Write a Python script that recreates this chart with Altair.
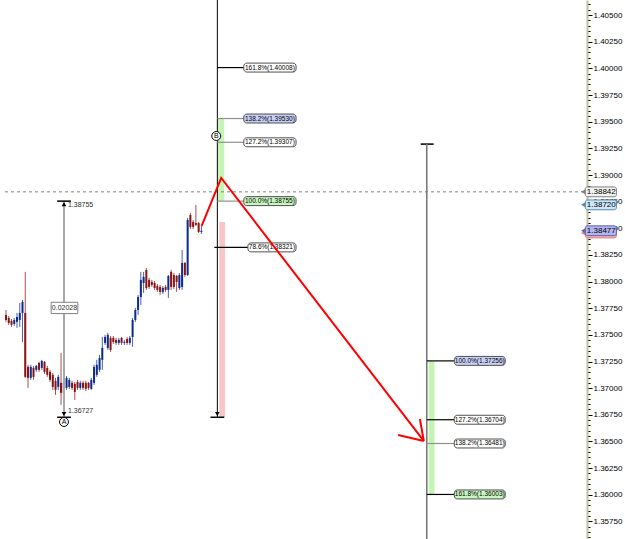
import altair as alt
import pandas as pd

# ---------------- data ----------------
opens = [1.37687,1.37659,1.37631,1.37603,1.37622,1.37640,1.37706,1.37706,1.37200,1.37097,
         1.37190,1.37172,1.37237,1.37190,1.37247,1.37190,1.37153,1.37125,1.37069,1.37012,
         1.37050,1.36956,1.37003,1.37012,1.37050,1.37041,1.37059,1.37003,1.37050,1.37050,
         1.37050,1.36994,1.37050,1.37125,1.37172,1.37266,1.37425,1.37378,1.37472,1.37472,
         1.37453,1.37425,1.37472,1.37425,1.37462,1.37425,1.37481,1.37640,1.37734,1.37856,
         1.37987,1.38109,1.38016,1.37997,1.37987,1.37959,1.37950,1.37903,1.37950,1.37922,
         1.38091,1.38062,1.38053,1.37940,1.37950,1.38175,1.38062,1.38625,1.38560,1.38550,
         1.38550,1.38466]
highs = [1.37734,1.37678,1.37650,1.37659,1.37706,1.37800,1.37828,1.38091,1.37219,1.37219,
         1.37209,1.37219,1.37247,1.37266,1.37256,1.37209,1.37172,1.37143,1.37097,1.37125,
         1.37331,1.37078,1.37115,1.37097,1.37069,1.37059,1.37078,1.37069,1.37069,1.37069,
         1.37059,1.37097,1.37219,1.37266,1.37312,1.37481,1.37500,1.37519,1.37490,1.37490,
         1.37472,1.37472,1.37481,1.37453,1.37481,1.37490,1.37659,1.37753,1.37875,1.38091,
         1.38091,1.38128,1.38034,1.38016,1.38006,1.37978,1.37969,1.37959,1.37969,1.38062,
         1.38109,1.38081,1.38062,1.38081,1.38297,1.38184,1.38597,1.38644,1.38578,1.38719,
         1.38560,1.38522]
lows = [1.37622,1.37594,1.37575,1.37584,1.37566,1.37575,1.37434,1.37097,1.37003,1.37078,
        1.37078,1.37153,1.37153,1.37172,1.37134,1.37106,1.37059,1.36984,1.36937,1.36984,
        1.36843,1.36937,1.36984,1.36994,1.36984,1.36890,1.36984,1.36984,1.36984,1.36974,
        1.36984,1.36984,1.37031,1.37106,1.37153,1.37172,1.37406,1.37359,1.37340,1.37415,
        1.37406,1.37406,1.37406,1.37406,1.37406,1.37406,1.37387,1.37622,1.37687,1.37781,
        1.37894,1.37922,1.37931,1.37950,1.37922,1.37903,1.37875,1.37884,1.37903,1.37847,
        1.37922,1.37931,1.37903,1.37922,1.37922,1.38044,1.38053,1.38494,1.38494,1.38522,
        1.38456,1.38447]
closes = [1.37640,1.37612,1.37594,1.37640,1.37668,1.37706,1.37809,1.37106,1.37097,1.37200,
          1.37106,1.37209,1.37172,1.37256,1.37153,1.37125,1.37078,1.37012,1.36984,1.37106,
          1.36956,1.37050,1.37097,1.37078,1.37003,1.36965,1.37003,1.37050,1.37003,1.36994,
          1.37003,1.37078,1.37200,1.37219,1.37284,1.37378,1.37481,1.37500,1.37359,1.37434,
          1.37425,1.37453,1.37425,1.37434,1.37425,1.37472,1.37640,1.37734,1.37856,1.38016,
          1.38044,1.37940,1.37950,1.37969,1.37940,1.37922,1.37903,1.37940,1.37922,1.38053,
          1.37950,1.37950,1.37997,1.38062,1.38175,1.38062,1.38578,1.38513,1.38513,1.38532,
          1.38466,1.38477]

# measurement A
meas_top = 1.38755
meas_bottom = 1.36727
meas_diff = "0.02028"

# Fibonacci set 1 (vertical line B)
fib1_pct = ["161.8%", "138.2%", "127.2%", "100.0%", "78.6%"]
fib1_price = [1.40008, 1.39530, 1.39307, 1.38755, 1.38321]
# Fibonacci set 2
fib2_pct = ["100.0%", "127.2%", "138.2%", "161.8%"]
fib2_price = [1.37256, 1.36704, 1.36481, 1.36003]

fib2_top = 1.39290
pink_top = 1.38560
dash_level = 1.38842

# red zig-zag (bar index, price)
zig_x = [71.1, 78.2, 151.8]
zig_p = [1.38522, 1.38972, 1.36505]
barb_x = [142.5, 150.4]
barb_p = [1.36561, 1.36711]

# price tags on the right axis
tag_price = [1.38842, 1.38720, 1.38477]

# axis ticks
minor_ticks = [round(1.3560 + k * 0.0005, 4) for k in range(101)]

# ---------------- styles / positions ----------------
XS = alt.Scale(domain=[-0.36, 209.3], nice=False, zero=False)
YS = alt.Scale(domain=[1.35585, 1.40642], nice=False, zero=False)
FONT = "Liberation Sans"
MAJOR = "abs(datum.value*400 - round(datum.value*400)) < 0.01"

YAX = alt.Axis(
    orient="right", values=minor_ticks, title=None, grid=False,
    labelExpr=f"{MAJOR} ? format(datum.value, '.5f') : ''",
    tickSize={"condition": {"test": MAJOR, "value": 5}, "value": 3},
    tickColor="#000000", tickWidth=1,
    domainColor="#c0c0a0", domainWidth=2,
    labelFont=FONT, labelFontSize=8, labelColor="#000000",
    labelOverlap=False, labelPadding=1, labelBound=False, labelFlush=False,
)


def X(f):
    return alt.X(f"{f}:Q", scale=XS, axis=None)


def Y(f):
    return alt.Y(f"{f}:Q", scale=YS, axis=YAX, title=None)


def X2(f):
    return alt.X2(f"{f}:Q")


def Y2(f):
    return alt.Y2(f"{f}:Q")


candles = pd.DataFrame({"i": list(range(len(opens))), "open": opens, "high": highs,
                        "low": lows, "close": closes})
candles["col"] = ["#0e2c8e" if c >= o else "#8a1414" for o, c in zip(opens, closes)]

wicks = alt.Chart(candles).mark_rule(strokeWidth=1, opacity=0.75).encode(
    x=X("i"), y=Y("low"), y2=Y2("high"), color=alt.Color("col:N", scale=None))
bodies = alt.Chart(candles).mark_bar(size=2).encode(
    x=X("i"), y=Y("open"), y2=Y2("close"), color=alt.Color("col:N", scale=None))

# shaded bars
bars = pd.DataFrame({
    "x": [77.1, 77.5, 153.6], "x2": [79.3, 79.6, 155.7],
    "y": [meas_top, meas_bottom, fib2_price[3]], "y2": [fib1_price[1], pink_top, fib2_price[0]],
    "c": ["#c4f5b4", "#f8c6c6", "#c4f5b4"]})
bar_layer = alt.Chart(bars).mark_rect().encode(
    x=X("x"), x2=X2("x2"), y=Y("y"), y2=Y2("y2"), fill=alt.Fill("c:N", scale=None))

dash = alt.Chart(pd.DataFrame({"x": [-0.36], "x2": [209.3], "y": [dash_level]})).mark_rule(
    color="#808080", strokeDash=[3, 3], strokeWidth=1).encode(x=X("x"), x2=X2("x2"), y=Y("y"))

# measurement tool A
meas_line = alt.Chart(pd.DataFrame({"x": [21.07], "y": [meas_bottom], "y2": [meas_top]})).mark_rule(
    color="#a8a8a8", strokeWidth=2).encode(x=X("x"), y=Y("y"), y2=Y2("y2"))
caps = pd.DataFrame({"x": [18.6, 18.6, 74.3, 150.7], "x2": [23.6, 23.6, 79.3, 155.4],
                     "y": [meas_top, meas_bottom, meas_bottom, fib2_top]})
cap_layer = alt.Chart(caps).mark_rule(color="#000000", strokeWidth=1.5).encode(
    x=X("x"), x2=X2("x2"), y=Y("y"))
arrows = pd.DataFrame({"x": [21.07, 21.07, 76.8], "y": [meas_top - 0.00030, meas_bottom + 0.00030, meas_bottom + 0.00030],
                       "s": ["triangle-up", "triangle-down", "triangle-down"]})
arrow_layer = alt.Chart(arrows).mark_point(filled=True, color="#000000", size=22, opacity=1).encode(
    x=X("x"), y=Y("y"), shape=alt.Shape("s:N", scale=None))
meas_text = alt.Chart(pd.DataFrame({"x": [22.5, 22.5], "y": [meas_top - 0.00035, meas_bottom + 0.00055],
                                    "t": [f"{meas_top:.5f}", f"{meas_bottom:.5f}"]})).mark_text(
    align="left", baseline="middle", font=FONT, fontSize=7, color="#303030").encode(
    x=X("x"), y=Y("y"), text="t:N")
diff_box = alt.Chart(pd.DataFrame({"x": [16.4], "x2": [26.1], "y": [1.37700], "y2": [1.37806]})).mark_rect(
    fill="white", stroke="#808080", strokeWidth=1).encode(x=X("x"), x2=X2("x2"), y=Y("y"), y2=Y2("y2"))
diff_text = alt.Chart(pd.DataFrame({"x": [21.25], "y": [1.37753], "t": [meas_diff]})).mark_text(
    align="center", baseline="middle", font=FONT, fontSize=7, color="#303030").encode(
    x=X("x"), y=Y("y"), text="t:N")

# fib vertical lines
fib1_line = alt.Chart(pd.DataFrame({"x": [76.8], "y": [meas_bottom], "y2": [1.40642]})).mark_rule(
    color="#000000", strokeWidth=1).encode(x=X("x"), y=Y("y"), y2=Y2("y2"))
fib2_line = alt.Chart(pd.DataFrame({"x": [152.9], "y": [1.35585], "y2": [fib2_top]})).mark_rule(
    color="#7a7a7a", strokeWidth=1.6).encode(x=X("x"), y=Y("y"), y2=Y2("y2"))

fib_rows = []
fill1 = ["white", "#c8d0f8", "white", "#c8f5c0", "white"]
tick1 = ["#000000", "#909090", "#909090", "#909090", "#000000"]
left1 = [86.4, 86.4, 86.4, 86.4, 87.9]
for p, v, f, tc, lx in zip(fib1_pct, fib1_price, fill1, tick1, left1):
    fib_rows.append({"tx": 75.7 if p == "78.6%" else 76.8, "bx": lx, "bx2": 105.4, "y": v,
                     "t": f"{p}({v:.5f})", "fill": f, "tc": tc})
fill2 = ["#c8d0f8", "white", "white", "#c8f5c0"]
tick2 = ["#000000", "#000000", "#909090", "#000000"]
for p, v, f, tc in zip(fib2_pct, fib2_price, fill2, tick2):
    fib_rows.append({"tx": 152.9, "bx": 162.9, "bx2": 181.4, "y": v,
                     "t": f"{p}({v:.5f})", "fill": f, "tc": tc})
fib = pd.DataFrame(fib_rows)
fib["y_lo"] = fib["y"] - 0.00042
fib["y_hi"] = fib["y"] + 0.00042
fib["cx"] = (fib["bx"] + fib["bx2"]) / 2

fib_ticks = alt.Chart(fib).mark_rule(strokeWidth=1.2).encode(
    x=X("tx"), x2=X2("bx"), y=Y("y"), color=alt.Color("tc:N", scale=None))
fib_boxes = alt.Chart(fib).mark_rect(stroke="#505050", strokeWidth=1, cornerRadius=3).encode(
    x=X("bx"), x2=X2("bx2"), y=Y("y_lo"), y2=Y2("y_hi"), fill=alt.Fill("fill:N", scale=None))
fib_text = alt.Chart(fib).mark_text(align="center", baseline="middle", font=FONT, fontSize=6.5,
                                     color="#000000").encode(x=X("cx"), y=Y("y"), text="t:N")

# circles A / B
circ = pd.DataFrame({"x": [21.07, 76.4], "y": [1.36683, 1.39366], "t": ["A", "B"]})
circ_pts = alt.Chart(circ).mark_point(shape="circle", fill="white", stroke="#000000", strokeWidth=1,
                                      size=80, opacity=1, filled=False).encode(x=X("x"), y=Y("y"))
circ_text = alt.Chart(circ).mark_text(align="center", baseline="middle", font=FONT, fontSize=7,
                                      color="#000000").encode(x=X("x"), y=Y("y"), text="t:N")

# red zig-zag
zig = pd.DataFrame({"x": zig_x, "y": zig_p, "o": [0, 1, 2]})
zig_layer = alt.Chart(zig).mark_line(color="#ff0000", strokeWidth=2).encode(
    x=X("x"), y=Y("y"), order="o:Q")
barbs = pd.DataFrame({"x": barb_x, "y": barb_p, "x2": [zig_x[-1]] * 2, "y2": [zig_p[-1]] * 2})
barb_layer = alt.Chart(barbs).mark_rule(color="#ff0000", strokeWidth=2).encode(
    x=X("x"), x2=X2("x2"), y=Y("y"), y2=Y2("y2"))

# price tags
tags = pd.DataFrame({"y": [1.38456] + tag_price, "fill": ["#f4b8b8", "#f2f2f2", "#cde8f8", "#b4b4f0"],
                     "stroke": ["#d08080", "#808080", "#5a8aaa", "#6060a8"],
                     "t": [""] + [f"{v:.5f}" for v in tag_price]})
tags["x"] = 210.5
tags["x2"] = 221.8
tags["tx"] = 210.0
tags["cx"] = 216.3
tags["y_lo"] = tags["y"] - 0.00046
tags["y_hi"] = tags["y"] + 0.00046
tag_tri = alt.Chart(tags).mark_point(shape="triangle-left", filled=True, size=45, opacity=1).encode(
    x=X("tx"), y=Y("y"), color=alt.Color("stroke:N", scale=None))
tag_box = alt.Chart(tags).mark_rect(strokeWidth=1, cornerRadius=2).encode(
    x=X("x"), x2=X2("x2"), y=Y("y_lo"), y2=Y2("y_hi"),
    fill=alt.Fill("fill:N", scale=None), stroke=alt.Stroke("stroke:N", scale=None))
tag_text = alt.Chart(tags).mark_text(align="center", baseline="middle", font=FONT, fontSize=8,
                                     color="#000000").encode(x=X("cx"), y=Y("y"), text="t:N")

chart = alt.layer(
    bar_layer, dash, wicks, bodies, meas_line, cap_layer, arrow_layer, meas_text, diff_box, diff_text,
    fib1_line, fib2_line, fib_ticks, fib_boxes, fib_text, circ_pts, circ_text,
    zig_layer, barb_layer, tag_tri, tag_box, tag_text,
).properties(
    width=587, height=539,
    autosize=alt.AutoSizeParams(type="none"),
    padding={"left": 0, "top": 0, "right": 38, "bottom": 0},
    background="white",
).configure_view(strokeWidth=0)

chart.save("out.html", embed_options={"renderer": "svg", "actions": False})
